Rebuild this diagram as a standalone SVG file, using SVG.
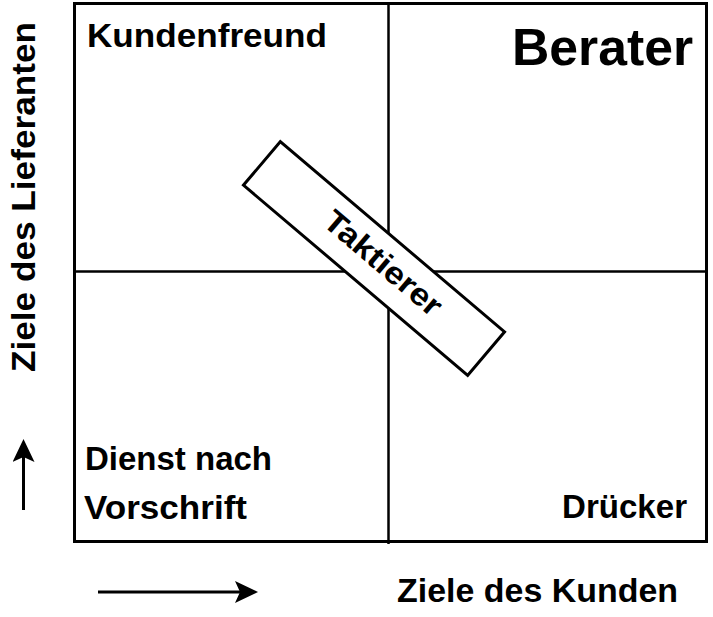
<svg xmlns="http://www.w3.org/2000/svg" width="713" height="617" viewBox="0 0 713 617">
<style>
.t{font-family:"Liberation Sans",Arial,sans-serif;font-weight:bold;font-size:33px;fill:#000}
.ln{stroke:#000;fill:none}
</style>
<defs>
<marker id="ah" markerUnits="userSpaceOnUse" viewBox="0 0 23 22" refX="13" refY="11" markerWidth="23" markerHeight="22" orient="auto">
<path d="M0,0 L23,11 L0,22 L5,11 z" fill="#000"/>
</marker>
</defs>
<rect width="713" height="617" fill="#fff"/>
<g id="connectors">
<rect class="ln" x="74.5" y="3.5" width="632" height="538" stroke-width="3"/>
<line class="ln" x1="388.5" y1="3" x2="388.5" y2="544" stroke-width="2.5"/>
<line class="ln" x1="74" y1="271.5" x2="706" y2="271.5" stroke-width="2.5"/>
<line class="ln" x1="23.5" y1="510" x2="23.5" y2="449" stroke-width="3" marker-end="url(#ah)"/>
<line class="ln" x1="98" y1="592" x2="248" y2="592" stroke-width="3" marker-end="url(#ah)"/>
</g>
<g id="kundenfreund"><text class="t" x="87" y="47" textLength="240" lengthAdjust="spacingAndGlyphs">Kundenfreund</text></g>
<g id="berater"><text class="t" x="512" y="65" style="font-size:52px" textLength="181" lengthAdjust="spacingAndGlyphs">Berater</text></g>
<g id="dienst"><text class="t" x="85" y="470" textLength="187" lengthAdjust="spacingAndGlyphs">Dienst nach</text><text class="t" x="84" y="519" textLength="163" lengthAdjust="spacingAndGlyphs">Vorschrift</text></g>
<g id="druecker"><text class="t" x="562" y="518" textLength="125" lengthAdjust="spacingAndGlyphs">Drücker</text></g>
<g id="taktierer" transform="translate(374,258.5) rotate(40.3)">
<rect x="-147" y="-28.5" width="294" height="57" fill="#fff" stroke="#000" stroke-width="3"/>
<text class="t" x="10" y="8" text-anchor="middle" style="font-size:31px" textLength="145" lengthAdjust="spacingAndGlyphs">Taktierer</text>
</g>
<g id="xlabel"><text class="t" x="397" y="602" textLength="281" lengthAdjust="spacingAndGlyphs">Ziele des Kunden</text></g>
<g id="ylabel"><text class="t" transform="translate(35,372) rotate(-90)" x="0" y="0" textLength="350" lengthAdjust="spacingAndGlyphs">Ziele des Lieferanten</text></g>
</svg>
